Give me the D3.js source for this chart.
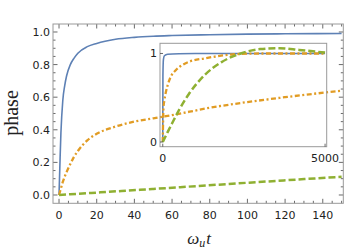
<!DOCTYPE html>
<html>
<head>
<meta charset="utf-8">
<script src="https://cdn.jsdelivr.net/npm/d3@7"></script>
<style>
  body { margin: 0; background: #fff; }
  svg { display: block; }
</style>
</head>
<body>
<div id="chart"></div>
<script>
// main plot data
const tBlue = [0, 0.5, 1, 2, 3, 4, 6, 8, 10, 15, 20, 30, 40, 50, 60, 80, 100, 120, 150];
const blue = [0, 0.2, 0.38, 0.58, 0.67, 0.73, 0.8, 0.84, 0.87, 0.91, 0.93, 0.955, 0.967, 0.974, 0.978, 0.983, 0.987, 0.989, 0.991];
const tOrange = [0, 1, 2, 4, 6, 8, 10, 15, 20, 30, 40, 50, 60, 80, 100, 120, 150];
const orange = [0, 0.04, 0.08, 0.14, 0.19, 0.235, 0.27, 0.335, 0.375, 0.42, 0.45, 0.47, 0.49, 0.535, 0.57, 0.6, 0.64];
const tGreen = [0, 50, 100, 150];
const green = [0, 0.037, 0.075, 0.112];

// inset data
const tBlueIn = [0, 5, 20, 50, 150, 500, 1000, 5000];
const blueIn = [0, 0.75, 0.93, 0.974, 0.991, 0.997, 0.999, 1.0];
const tOrangeIn = [0, 20, 50, 100, 150, 250, 400, 800, 1300, 1800, 2400, 3000, 4000, 5000];
const orangeIn = [0, 0.375, 0.47, 0.57, 0.64, 0.74, 0.81, 0.905, 0.945, 0.975, 0.995, 1.0, 1.0, 1.0];
const tGreenIn = [0, 150, 300, 500, 800, 1300, 1800, 2400, 3000, 3600, 4200, 5000];
const greenIn = [0, 0.112, 0.22, 0.36, 0.54, 0.76, 0.9, 1.0, 1.05, 1.06, 1.04, 1.01];

// ticks
const xTicks = [0, 20, 40, 60, 80, 100, 120, 140];
const yTicks = [0, 0.2, 0.4, 0.6, 0.8, 1.0];
const xTicksIn = [0, 5000];
const yTicksIn = [0, 1];

const W = 346, H = 252;
const colors = { blue: '#5e81b5', orange: '#e19c24', green: '#8fb032' };
const tickFont = 'DejaVu Sans, sans-serif';

const svg = d3.select('#chart').append('svg')
  .attr('width', W).attr('height', H);

// main frame box
const box = { left: 53, right: 343.3, top: 24, bottom: 203.3 };
const x = d3.scaleLinear().domain([-3.2, 150.9]).range([box.left, box.right]);
const y = d3.scaleLinear().domain([-0.051, 1.049]).range([box.bottom, box.top]);

const zip = (xs, ys) => xs.map((d, i) => [d, ys[i]]);

function drawFrame(g, b, color) {
  g.append('rect')
    .attr('x', b.left).attr('y', b.top)
    .attr('width', b.right - b.left).attr('height', b.bottom - b.top)
    .attr('fill', 'none').attr('stroke', color).attr('stroke-width', 1);
}

function styleLine(p, key) {
  p.attr('fill', 'none').attr('stroke', colors[key]);
  if (key === 'blue') p.attr('stroke-width', 1.6);
  if (key === 'orange') p.attr('stroke-width', 2.3).attr('stroke-dasharray', '5,2.5,2,2.5');
  if (key === 'green') p.attr('stroke-width', 2.5).attr('stroke-dasharray', '7,3');
  return p;
}

// clip for main plot
svg.append('clipPath').attr('id', 'clipMain')
  .append('rect').attr('x', box.left).attr('y', box.top)
  .attr('width', box.right - box.left).attr('height', box.bottom - box.top);

// ticks (inside, on all four sides)
const tk = svg.append('g').attr('stroke', '#444').attr('stroke-width', 0.8);
const xMinor = d3.range(0, 151, 5);
const yMinor = d3.range(0, 1.0001, 0.05);
xMinor.forEach(v => {
  const major = xTicks.includes(v);
  const len = major ? 4.5 : 2.5;
  tk.append('line').attr('x1', x(v)).attr('x2', x(v)).attr('y1', box.bottom).attr('y2', box.bottom - len);
  tk.append('line').attr('x1', x(v)).attr('x2', x(v)).attr('y1', box.top).attr('y2', box.top + len);
});
yMinor.forEach(v => {
  const major = yTicks.some(t => Math.abs(t - v) < 1e-6);
  const len = major ? 4.5 : 2.5;
  tk.append('line').attr('y1', y(v)).attr('y2', y(v)).attr('x1', box.left).attr('x2', box.left + len);
  tk.append('line').attr('y1', y(v)).attr('y2', y(v)).attr('x1', box.right).attr('x2', box.right - len);
});

// tick labels
svg.append('g').selectAll('text').data(xTicks).join('text')
  .attr('x', d => x(d)).attr('y', 219)
  .attr('text-anchor', 'middle')
  .attr('font-family', tickFont).attr('font-size', 11).attr('fill', '#222')
  .text(d => d);
svg.append('g').selectAll('text').data(yTicks).join('text')
  .attr('x', 50).attr('y', d => y(d) + 4)
  .attr('text-anchor', 'end')
  .attr('font-family', tickFont).attr('font-size', 11).attr('fill', '#222')
  .text(d => d3.format('.1f')(d));

// axis labels
svg.append('text')
  .attr('transform', 'translate(18,113) rotate(-90)')
  .attr('text-anchor', 'middle')
  .attr('font-family', 'Liberation Serif, Times New Roman, serif')
  .attr('font-size', 20).attr('fill', '#222')
  .text('phase');

const xl = svg.append('text')
  .attr('x', 199).attr('y', 244)
  .attr('text-anchor', 'middle')
  .attr('font-family', 'Liberation Serif, Times New Roman, serif')
  .attr('font-style', 'italic')
  .attr('font-size', 17).attr('fill', '#222');
xl.append('tspan').text('ω');
xl.append('tspan').attr('dy', 3).attr('font-size', 12).text('u');
xl.append('tspan').attr('dy', -3).attr('dx', 1).text('t');

// main curves
const line = d3.line().x(d => x(d[0])).y(d => y(d[1])).curve(d3.curveMonotoneX);
const plot = svg.append('g').attr('clip-path', 'url(#clipMain)');
styleLine(plot.append('path').datum(zip(tBlue, blue)).attr('d', line), 'blue');
styleLine(plot.append('path').datum(zip(tOrange, orange)).attr('d', line), 'orange');
styleLine(plot.append('path').datum(zip(tGreen, green)).attr('d', line), 'green');

drawFrame(svg, box, '#999');

// inset
const ib = { left: 160, right: 326.7, top: 43.3, bottom: 146.7 };
const xi = d3.scaleLinear().domain([-85, 5050]).range([ib.left, ib.right]);
const yi = d3.scaleLinear().domain([-0.053, 1.115]).range([ib.bottom, ib.top]);

svg.append('clipPath').attr('id', 'clipInset')
  .append('rect').attr('x', ib.left).attr('y', ib.top)
  .attr('width', ib.right - ib.left).attr('height', ib.bottom - ib.top);

const lineIn = d3.line().x(d => xi(d[0])).y(d => yi(d[1])).curve(d3.curveMonotoneX);
const inset = svg.append('g').attr('clip-path', 'url(#clipInset)');
styleLine(inset.append('path').datum(zip(tBlueIn, blueIn)).attr('d', lineIn), 'blue');
styleLine(inset.append('path').datum(zip(tOrangeIn, orangeIn)).attr('d', lineIn), 'orange');
styleLine(inset.append('path').datum(zip(tGreenIn, greenIn)).attr('d', lineIn), 'green');

drawFrame(svg, ib, '#999');

const tki = svg.append('g').attr('stroke', '#444').attr('stroke-width', 0.8);
xTicksIn.forEach(v => {
  tki.append('line').attr('x1', xi(v)).attr('x2', xi(v)).attr('y1', ib.bottom).attr('y2', ib.bottom - 3);
});
yTicksIn.forEach(v => {
  tki.append('line').attr('y1', yi(v)).attr('y2', yi(v)).attr('x1', ib.left).attr('x2', ib.left + 3);
});

svg.append('g').selectAll('text').data(xTicksIn).join('text')
  .attr('x', d => xi(d)).attr('y', 162)
  .attr('text-anchor', 'middle')
  .attr('font-family', tickFont).attr('font-size', 11).attr('fill', '#222')
  .text(d => d);
svg.append('g').selectAll('text').data(yTicksIn).join('text')
  .attr('x', 157).attr('y', d => yi(d) + 4)
  .attr('text-anchor', 'end')
  .attr('font-family', tickFont).attr('font-size', 11).attr('fill', '#222')
  .text(d => d);
</script>
</body>
</html>
